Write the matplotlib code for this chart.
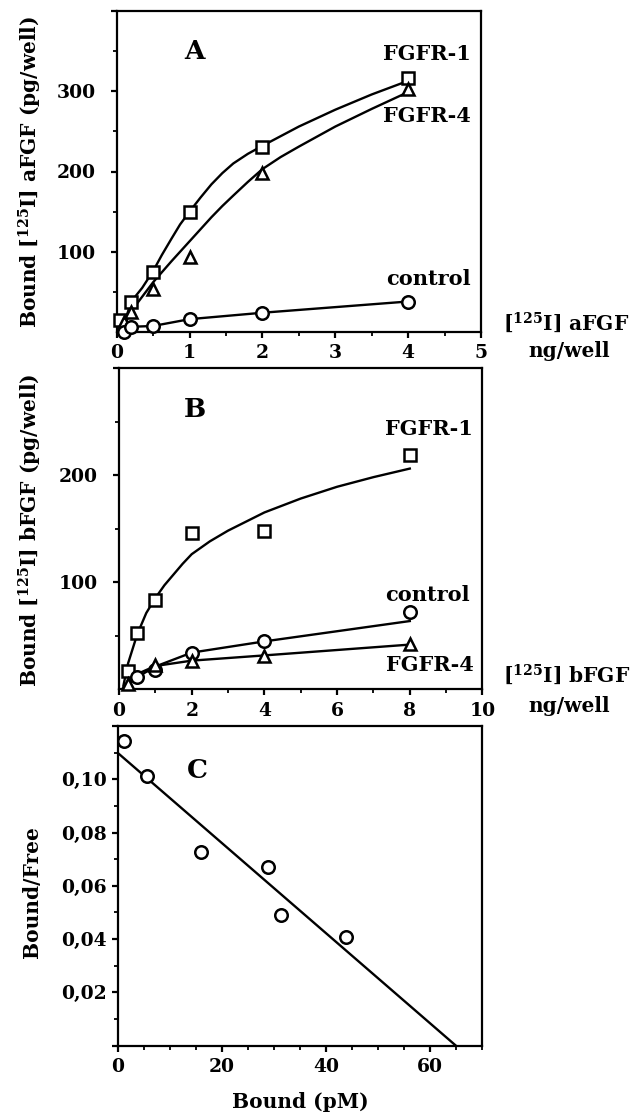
import numpy as np
import matplotlib
matplotlib.use('Agg')
import matplotlib.pyplot as plt
from matplotlib.ticker import MultipleLocator, FixedLocator

plt.rcParams['font.family'] = 'DejaVu Serif'
plt.rcParams['font.weight'] = 'bold'
plt.rcParams['mathtext.fontset'] = 'custom'
plt.rcParams['mathtext.rm'] = 'DejaVu Serif:bold'
plt.rcParams['mathtext.it'] = 'DejaVu Serif:bold'
plt.rcParams['mathtext.bf'] = 'DejaVu Serif:bold'
plt.rcParams['axes.linewidth'] = 1.6

# ---------------- Panel A: aFGF binding ----------------
a_dose_fgfr1 = [0.05, 0.2, 0.5, 1, 2, 4]
a_bound_fgfr1 = [15, 37, 75, 150, 231, 316]
a_dose_fgfr4 = [0.1, 0.2, 0.5, 1, 2, 4]
a_bound_fgfr4 = [12, 25, 54, 93, 198, 303]
a_dose_control = [0.1, 0.2, 0.5, 1, 2, 4]
a_bound_control = [0, 6.5, 7.5, 16, 24, 38]
a_fit_fgfr1_x = [0.1, 0.2, 0.35, 0.5, 0.62, 0.75, 0.87, 1.0, 1.15, 1.3, 1.45, 1.6,
                 1.8, 2.0, 2.5, 3.0, 3.5, 4.0]
a_fit_fgfr1_y = [10, 38, 55, 76, 96, 116, 134, 150, 167.5, 184, 198, 210,
                 222, 232, 256, 277, 296, 313]
a_fit_fgfr4_x = [0.1, 0.2, 0.5, 0.75, 1.0, 1.15, 1.3, 1.45, 1.6, 1.8, 2.0, 2.25,
                 2.5, 3.0, 3.5, 4.0]
a_fit_fgfr4_y = [8, 26, 62, 88, 113, 128, 143, 157, 170, 187, 203, 218,
                 231, 256, 278, 299]

# ---------------- Panel B: bFGF binding ----------------
b_dose_fgfr1 = [0.25, 0.5, 1, 2, 4, 8]
b_bound_fgfr1 = [17, 52, 83, 146, 148, 219]
b_dose_fgfr4 = [0.25, 1, 2, 4, 8]
b_bound_fgfr4 = [5, 22, 26, 31, 42.5]
b_dose_control = [0.5, 1, 2, 4, 8]
b_bound_control = [11, 18, 33.5, 44.6, 72.4]
b_fit_fgfr1_x = [0.12, 0.25, 0.5, 0.75, 1.0, 1.25, 1.5, 1.75, 2.0, 2.5, 3.0, 4.0,
                 5.0, 6.0, 7.0, 8.0]
b_fit_fgfr1_y = [3, 24, 51, 71, 85, 97, 107, 117, 126, 138, 148, 165,
                 178, 189, 198, 206]
b_fit_control_x = [0.12, 0.5, 1, 2, 4, 8]
b_fit_control_y = [1, 11, 21, 34, 44.5, 63.5]
b_fit_fgfr4_x = [0.12, 0.5, 1, 2, 4, 8]
b_fit_fgfr4_y = [1, 14, 21.5, 26.5, 31.4, 41.5]

# ---------------- Panel C: Scatchard ----------------
c_bound = [1.15, 5.5, 15.9, 28.8, 31.3, 43.8]
c_ratio = [0.1142, 0.1011, 0.0727, 0.0671, 0.0492, 0.0408]

W, H = 631, 1117
fig = plt.figure(figsize=(W / 100, H / 100), dpi=100)


def px_axes(left, top, right, bottom):
    return fig.add_axes([left / W, 1 - bottom / H, (right - left) / W, (bottom - top) / H])


mk = dict(mfc='white', mec='black', mew=1.8, ls='none', clip_on=False, zorder=5)
ln = dict(color='black', lw=1.7, clip_on=False, zorder=3)
LBL = 15
TCK = 13.5


def style(ax, ypad):
    ax.tick_params(which='major', direction='out', length=4, width=1.6, labelsize=TCK)
    ax.tick_params(which='minor', direction='out', length=3, width=1.3)
    ax.tick_params(axis='y', which='major', pad=ypad)
    ax.tick_params(axis='x', which='major', pad=5)
    for lab in ax.get_xticklabels() + ax.get_yticklabels():
        lab.set_fontweight('bold')


# ---- A ----
axA = px_axes(116.7, 11, 481, 332)
axA.plot(a_fit_fgfr1_x, a_fit_fgfr1_y, **ln)
axA.plot(a_fit_fgfr4_x, a_fit_fgfr4_y, **ln)
axA.plot(a_dose_control, a_bound_control, **ln)
axA.plot(a_dose_fgfr1, a_bound_fgfr1, marker='s', ms=9, **mk)
axA.plot(a_dose_fgfr4, a_bound_fgfr4, marker='^', ms=9, **mk)
axA.plot(a_dose_control, a_bound_control, marker='o', ms=9, **mk)
axA.set_xlim(0, 5)
axA.set_ylim(0, 400)
axA.xaxis.set_major_locator(MultipleLocator(1))
axA.xaxis.set_minor_locator(MultipleLocator(0.5))
axA.set_yticks([100, 200, 300, 400], ['100', '200', '300', ''])
axA.yaxis.set_minor_locator(FixedLocator([50, 150, 250, 350]))
style(axA, 11)
axA.text(1.07, 350, 'A', fontsize=19, ha='center', va='center')
axA.text(4.26, 346, 'FGFR-1', fontsize=LBL, ha='center', va='center')
axA.text(4.26, 269, 'FGFR-4', fontsize=LBL, ha='center', va='center')
axA.text(4.28, 66, 'control', fontsize=LBL, ha='center', va='center')
fig.text(30 / W, 1 - 172 / H, r'Bound [$^{125}$I] aFGF (pg/well)', rotation=90,
         ha='center', va='center', fontsize=14.5)
fig.text(503 / W, 1 - 323 / H, r'[$^{125}$I] aFGF', ha='left', va='center', fontsize=14.5)
fig.text(569 / W, 1 - 351 / H, 'ng/well', ha='center', va='center', fontsize=14.5)

# ---- B ----
axB = px_axes(119, 368, 482.5, 689)
axB.plot(b_fit_fgfr1_x, b_fit_fgfr1_y, **ln)
axB.plot(b_fit_control_x, b_fit_control_y, **ln)
axB.plot(b_fit_fgfr4_x, b_fit_fgfr4_y, **ln)
axB.plot(b_dose_fgfr1, b_bound_fgfr1, marker='s', ms=9, **mk)
axB.plot(b_dose_control, b_bound_control, marker='o', ms=9, **mk)
axB.plot(b_dose_fgfr4, b_bound_fgfr4, marker='^', ms=8, **mk)
axB.set_xlim(0, 10)
axB.set_ylim(0, 300)
axB.xaxis.set_major_locator(MultipleLocator(2))
axB.xaxis.set_minor_locator(MultipleLocator(1))
axB.set_yticks([100, 200, 300], ['100', '200', ''])
axB.yaxis.set_minor_locator(FixedLocator([50, 150, 250]))
style(axB, 11)
axB.text(2.08, 261, 'B', fontsize=19, ha='center', va='center')
axB.text(8.52, 243, 'FGFR-1', fontsize=LBL, ha='center', va='center')
axB.text(8.48, 88, 'control', fontsize=LBL, ha='center', va='center')
axB.text(8.56, 22, 'FGFR-4', fontsize=LBL, ha='center', va='center')
fig.text(30 / W, 1 - 530 / H, r'Bound [$^{125}$I] bFGF (pg/well)', rotation=90,
         ha='center', va='center', fontsize=14.5)
fig.text(503 / W, 1 - 675 / H, r'[$^{125}$I] bFGF', ha='left', va='center', fontsize=14.5)
fig.text(569 / W, 1 - 706 / H, 'ng/well', ha='center', va='center', fontsize=14.5)

# ---- C ----
axC = px_axes(118, 726, 482, 1045.5)
slope, intercept = np.polyfit(c_bound, c_ratio, 1)
x_end = -intercept / slope
axC.plot([0, x_end], [intercept, 0], **ln)
axC.plot(c_bound, c_ratio, marker='o', ms=9, **mk)
axC.set_xlim(0, 70)
axC.set_ylim(0, 0.12)
axC.set_xticks([0, 20, 40, 60])
axC.xaxis.set_minor_locator(MultipleLocator(5))
yt = [0, 0.02, 0.04, 0.06, 0.08, 0.10, 0.12]
axC.set_yticks(yt, ['', '0,02', '0,04', '0,06', '0,08', '0,10', ''])
axC.yaxis.set_minor_locator(MultipleLocator(0.01))
style(axC, 4)
axC.text(15.2, 0.1033, 'C', fontsize=19, ha='center', va='center')
fig.text(32 / W, 1 - 892 / H, 'Bound/Free', rotation=90, ha='center', va='center', fontsize=14.5)
fig.text(300 / W, 1 - 1102 / H, 'Bound (pM)', ha='center', va='center', fontsize=14.5)

fig.savefig('out.png', dpi=100)
